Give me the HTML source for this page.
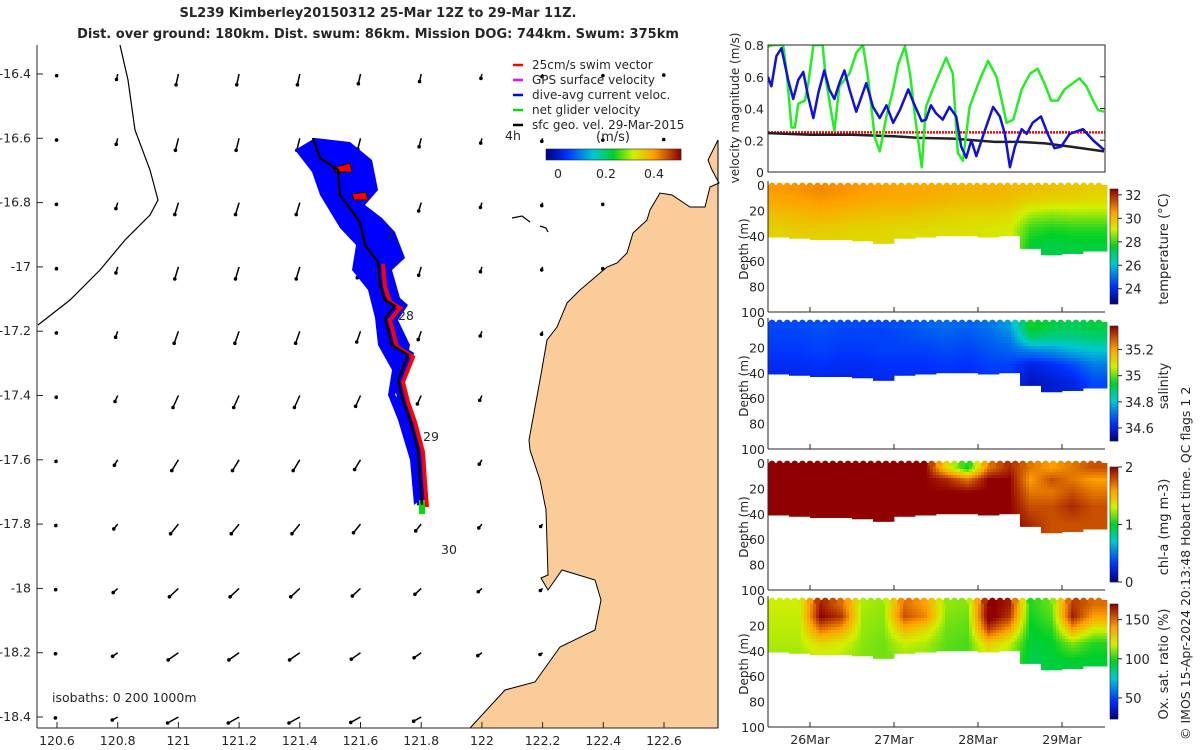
<!DOCTYPE html>
<html><head><meta charset="utf-8">
<style>
body{margin:0;background:#fff;}
svg{display:block;font-family:"DejaVu Sans","Liberation Sans",sans-serif;}
text{fill:#262626;}
</style></head><body>
<svg id="s" width="1200" height="750" viewBox="0 0 1200 750">
<text x="378" y="17" text-anchor="middle" font-weight="bold" font-size="13" fill="#000">SL239 Kimberley20150312 25-Mar 12Z to 29-Mar 11Z.</text>
<text x="378" y="38" text-anchor="middle" font-weight="bold" font-size="13" fill="#000">Dist. over ground: 180km. Dist. swum: 86km. Mission DOG: 744km. Swum: 375km</text>
<g id="map"></g>
<g id="right"></g>
<text transform="translate(1190,740) rotate(-90)" font-size="12.5">© IMOS 15-Apr-2024 20:13:48 Hobart time. QC flags 1  2</text>
</svg>
<script>
const NS="http://www.w3.org/2000/svg";
function mk(p,tag,at,txt){const e=document.createElementNS(NS,tag);for(const k in at)e.setAttribute(k,at[k]);if(txt!=null)e.textContent=txt;p.appendChild(e);return e;}
// ---------- data ----------
const latTicks=[-16.4,-16.6,-16.8,-17,-17.2,-17.4,-17.6,-17.8,-18,-18.2,-18.4];
const lonTicks=[120.6,120.8,121,121.2,121.4,121.6,121.8,122,122.2,122.4,122.6];
const arrowRowU=[-0.02,-0.025,-0.03,-0.03,-0.035,-0.045,-0.055,-0.065,-0.075,-0.085,-0.09];
const arrowRowV=[-0.09,-0.1,-0.1,-0.1,-0.1,-0.1,-0.09,-0.08,-0.07,-0.06,-0.05];
const arrowColScale=[0.15,0.5,1,1,1,0.9,0.7,0.4,0.25,0.15,0.1];
const greenT=[25.5,25.56,25.68,25.72,25.78,25.82,25.86,25.94,25.98,26.04,26.15,26.19,26.29,26.35,26.47,26.55,26.63,26.69,26.77,26.83,26.91,26.99,27.05,27.13,27.19,27.25,27.33,27.38,27.46,27.54,27.62,27.7,27.76,27.82,27.9,28.02,28.12,28.22,28.34,28.42,28.52,28.62,28.71,28.79,28.87,28.95,29.03,29.13,29.21,29.29,29.37,29.43,29.5];
const greenV=[0.79,0.8,0.8,0.64,0.28,0.28,0.43,0.45,0.56,0.8,0.8,0.58,0.26,0.54,0.62,0.75,0.8,0.6,0.22,0.13,0.35,0.52,0.68,0.79,0.62,0.35,0.03,0.41,0.52,0.62,0.72,0.62,0.12,0.07,0.41,0.58,0.7,0.6,0.31,0.33,0.52,0.62,0.65,0.56,0.45,0.45,0.52,0.56,0.59,0.54,0.45,0.39,0.38];
const blueT=[25.5,25.54,25.6,25.66,25.74,25.8,25.86,25.92,25.98,26.04,26.1,26.17,26.23,26.29,26.35,26.41,26.47,26.55,26.67,26.75,26.83,26.91,26.99,27.07,27.17,27.23,27.33,27.38,27.44,27.5,27.58,27.66,27.74,27.8,27.86,27.92,27.98,28.08,28.18,28.26,28.32,28.38,28.44,28.52,28.58,28.65,28.75,28.83,28.91,28.99,29.09,29.25,29.37,29.5];
const blueV=[0.6,0.54,0.73,0.78,0.58,0.46,0.58,0.63,0.47,0.34,0.5,0.64,0.52,0.46,0.56,0.64,0.52,0.38,0.56,0.41,0.34,0.42,0.31,0.39,0.52,0.44,0.32,0.33,0.42,0.37,0.33,0.41,0.35,0.16,0.09,0.2,0.1,0.26,0.41,0.35,0.24,0.03,0.16,0.27,0.24,0.31,0.35,0.24,0.15,0.16,0.24,0.27,0.2,0.14];
const blackT=[25.5,26,26.5,27,27.3,27.7,28.2,28.5,28.8,29.1,29.5];
const blackV=[0.245,0.235,0.235,0.225,0.215,0.21,0.19,0.19,0.18,0.16,0.13];
const swimSpeed=[0.25,0.25];
const colT=[25.5,25.75,26,26.25,26.5,26.75,27,27.25,27.5,27.75,28,28.25,28.5,28.75,29,29.25,29.5];
const bottomDepth=[41,42,43,43,44,46,42,41,40,40,41,40,50,55,54,52];
const binCenters=[4,13,23,34,48];
const tempBins=[
[30.6,30.7,30.8,30.7,30.6,30.5,30.4,30.4,30.3,30.2,30.2,30.1,30,29.9,29.8,29.7],
[30.4,30.5,30.6,30.5,30.4,30.3,30.3,30.2,30.1,30,30,29.9,29.6,29.5,29.5,29.4],
[30,30.1,30.2,30.1,30,29.9,29.9,29.8,29.7,29.6,29.6,29.5,28.8,28.6,28.7,28.7],
[29.7,29.8,29.8,29.7,29.6,29.6,29.5,29.5,29.4,29.4,29.3,29.2,28,27.8,27.9,27.9],
[29.5,29.5,29.5,29.5,29.5,29.5,29.4,29.4,29.3,29.3,29.2,29.1,27.5,27.3,27.4,27.4]];
const salBins=[
[34.66,34.66,34.67,34.66,34.66,34.66,34.67,34.69,34.7,34.69,34.71,34.76,34.95,34.92,34.9,34.92],
[34.65,34.65,34.66,34.65,34.65,34.65,34.66,34.67,34.68,34.67,34.69,34.72,34.88,34.86,34.86,34.88],
[34.64,34.64,34.65,34.64,34.64,34.65,34.65,34.65,34.66,34.65,34.67,34.69,34.72,34.74,34.78,34.8],
[34.62,34.62,34.63,34.62,34.62,34.63,34.63,34.63,34.64,34.63,34.65,34.65,34.6,34.62,34.66,34.72],
[34.6,34.6,34.61,34.6,34.6,34.61,34.61,34.61,34.62,34.61,34.63,34.63,34.56,34.58,34.6,34.66]];
const chlBins=[
[2,2,2,2,2,2,2,2,1.4,1.0,1.7,1.9,1.7,1.6,1.7,1.8],
[2,2,2,2,2,2,2,2,1.9,1.7,2,2,1.6,1.8,1.7,1.6],
[2,2,2,2,2,2,2,2,2,2,2,2,1.7,1.7,1.8,1.7],
[2,2,2,2,2,2,2,2,2,2,2,2,1.8,1.8,1.9,1.8],
[2,2,2,2,2,2,2,2,2,2,2,2,1.9,1.8,1.8,1.8]];
const oxyBins=[
[118,118,165,150,115,112,150,140,112,110,172,165,100,108,160,150],
[117,117,170,160,113,111,155,145,110,108,175,160,98,105,165,140],
[116,116,150,140,112,110,135,125,108,106,160,140,96,100,140,120],
[115,115,125,120,111,108,118,115,106,104,130,118,94,96,110,100],
[112,112,115,115,110,108,110,110,105,104,115,110,92,94,95,95]];
const dayTicks=[26,27,28,29];
const dayLabels=["26Mar","27Mar","28Mar","29Mar"];
const depthTicks=[0,20,40,60,80,100];
const velTicks=[0,0.2,0.4,0.6,0.8];

const stops=[[0,[0,0,128]],[0.15,[0,48,255]],[0.35,[0,200,210]],[0.5,[0,208,40]],[0.65,[210,240,0]],[0.8,[255,160,0]],[1,[144,0,0]]];
function cmap(f){f=Math.max(0,Math.min(1,f));for(let i=1;i<stops.length;i++){if(f<=stops[i][0]){const a=stops[i-1],b=stops[i];const t=(f-a[0])/(b[0]-a[0]);return `rgb(${a[1].map((c,j)=>Math.round(c+(b[1][j]-c)*t)).join(',')})`;}}return 'rgb(144,0,0)';}

const svg=document.getElementById('s');
// ---------- map ----------
const map=document.getElementById('map');
const lonX=l=>57+(l-120.6)*303.5;
const latY=l=>74+(-16.4-l)*321.5;
const landD="M718,140 L718,728 L470,728 L505,690 L535,682 L560,647 L595,630 L601,600 L595,580 L562,570 L548,590 L541,578 L548,575 L546,510 L540,480 L530,450 L529,440 L540,380 L547,340 L557,327 L567,303 L580,290 L600,273 L607,267 L617,263 L627,253 L633,233 L647,220 L650,210 L660,193 L672,195 L690,207 L705,207 L710,187 L719,183 L712,170 L708,160 Z";
const land=mk(map,'path',{d:landD,fill:'#f9cc99',stroke:'#000','stroke-width':1});


mk(map,'path',{d:"M512,218 L522,216 L530,222 M540,226 L546,228 L548,232",stroke:'#000',fill:'none','stroke-width':1.2});
const iso=mk(map,'path',{d:"M120,45 L128,80 L135,130 L150,170 L158,200 L150,215 L125,240 L100,270 L70,300 L38,325",stroke:'#000',fill:'none','stroke-width':1.2});


mk(map,'text',{x:52,y:702,'font-size':12.5},"isobaths: 0   200   1000m");
mk(map,'line',{x1:37,y1:45,x2:37,y2:728,stroke:'#262626'});
mk(map,'line',{x1:37,y1:728,x2:718,y2:728,stroke:'#262626'});
latTicks.forEach(l=>{const y=latY(l);mk(map,'line',{x1:37,y1:y,x2:43,y2:y,stroke:'#262626'});
 const t=mk(map,'text',{x:31,y:y+4,'text-anchor':'end','font-size':12.5},String(l));
 });
lonTicks.forEach(l=>{const x=lonX(l);mk(map,'line',{x1:x,y1:728,x2:x,y2:722,stroke:'#262626'});
 const t=mk(map,'text',{x:x,y:745,'text-anchor':'middle','font-size':12.5},String(l));
 });
const ag=mk(map,'g',{});

latTicks.forEach((la,r)=>lonTicks.forEach((lo,c)=>{
 const x=lonX(lo),y=latY(la);
 if(land.isPointInFill(new DOMPoint(x,y)))return;
 const s=arrowColScale[c]*120;const dx=arrowRowU[r]*s,dy=-arrowRowV[r]*s;
 mk(ag,'line',{x1:x,y1:y,x2:x+dx,y2:y+dy,stroke:'#000','stroke-width':1.5});
 mk(ag,'circle',{cx:x+dx,cy:y+dy,r:1.8,fill:'#000'});
}));
const trackPts="313,138 320,158 338,170 340,195 360,222 365,245 378,262 380,285 385,300 395,306 385,318 392,345 408,355 398,380 403,400 410,420 418,450 420,480 422,505";
const pts=trackPts.split(' ');
mk(map,'polygon',{points:"295,150 315,138 350,142 372,160 378,190 365,205 382,218 395,232 405,258 392,270 400,298 408,305 398,320 410,345 405,370 395,395 410,410 412,440 420,500 414,505 410,460 398,420 388,395 392,370 378,345 375,318 368,290 352,270 356,245 340,228 320,195 312,172",fill:'#0000ff'});
const bl=mk(map,'polyline',{points:pts.slice(9).join(' '),fill:'none',stroke:'#0000ff','stroke-width':10});

mk(map,'polyline',{points:pts.map(p=>{const[a,b]=p.split(',');return (+a+5)+','+(+b+2)}).slice(6).join(' '),fill:'none',stroke:'#ff0000','stroke-width':4});
mk(map,'polygon',{points:"333,168 350,163 352,172 336,172",fill:'#ff0000',stroke:'#000'});
mk(map,'polygon',{points:"352,194 366,192 368,200 354,200",fill:'#ff0000',stroke:'#000'});
mk(map,'rect',{x:419,y:500,width:6,height:14,fill:'#00e000'});
const tr=mk(map,'polyline',{points:trackPts,fill:'none',stroke:'#000','stroke-width':2.5});

[["4h",505,140],["28",398,320],["29",423,441],["30",441,554],["7",386,240]].forEach(d=>{const t=mk(map,'text',{x:d[1],y:d[2],'font-size':12.5},d[0]);});
const lg=mk(map,'g',{});
[["25cm/s swim vector","#ff0000"],["GPS surface velocity","#ff00ff"],["dive-avg current veloc.","#0000ff"],["net glider velocity","#00e000"],["sfc geo. vel. 29-Mar-2015","#000"]].forEach((d,i)=>{
 const y=65+i*15;mk(lg,'line',{x1:513,y1:y,x2:523,y2:y,stroke:d[1],'stroke-width':2.5});
 const t=mk(lg,'text',{x:532,y:y+4,'font-size':12},d[0]);});
mk(lg,'text',{x:613,y:141,'text-anchor':'middle','font-size':13},"(m/s)");
for(let i=0;i<135;i++)mk(lg,'rect',{x:546+i,y:149,width:1.2,height:11,fill:cmap(i/134)});
mk(lg,'rect',{x:546,y:149,width:135,height:11,fill:'none',stroke:'#262626','stroke-width':0.6});
[["0",558],["0.2",606],["0.4",654]].forEach(d=>mk(lg,'text',{x:d[1],y:178,'text-anchor':'middle','font-size':12.5},d[0]));

// ---------- right panels ----------
const R=document.getElementById('right');
const X0=768,X1=1105;
const tX=t=>X0+(t-25.5)*84;
const vg=mk(R,'g',{});
const vY=v=>172-v/0.8*127;
mk(vg,'defs',{}).innerHTML='<clipPath id="vc"><rect x="768" y="45" width="337" height="127"/></clipPath>';
const gl=mk(vg,'g',{'clip-path':'url(#vc)'});
mk(gl,'line',{x1:X0,y1:vY(swimSpeed[0]),x2:X1,y2:vY(swimSpeed[1]),stroke:'#ff0000','stroke-width':2.5,'stroke-dasharray':'2 1'});
[[blackT,blackV,'#222'],[greenT,greenV,'#22ee22'],[blueT,blueV,'#1010dd']].forEach(d=>{
 const p=mk(gl,'polyline',{points:d[0].map((t,i)=>tX(t)+','+vY(d[1][i])).join(' '),fill:'none',stroke:d[2],'stroke-width':2.5,'stroke-linejoin':'round'});
 });
mk(vg,'rect',{x:X0,y:45,width:337,height:127,fill:'none',stroke:'#262626'});
velTicks.forEach(v=>{mk(vg,'text',{x:764,y:vY(v)+5,'text-anchor':'end','font-size':12.5},String(v));
 mk(vg,'line',{x1:X1,y1:vY(v),x2:X1-5,y2:vY(v),stroke:'#262626'});});
mk(vg,'text',{transform:'translate(739,108) rotate(-90)','text-anchor':'middle','font-size':12},"velocity magnitude (m/s)");
const panels=[
 {top:185,bins:tempBins,min:22.7,max:32.5,ticks:[24,26,28,30,32],lab:"temperature (°C)",name:'temperature-section'},
 {top:322,bins:salBins,min:34.5,max:35.38,ticks:[34.6,34.8,35,35.2],lab:"salinity",name:'salinity-section'},
 {top:463,bins:chlBins,min:0,max:2,ticks:[0,1,2],lab:"chl-a (mg m-3)",name:'chl-section'},
 {top:600,bins:oxyBins,min:23,max:170,ticks:[50,100,150],lab:"Ox. sat. ratio (%)",name:'oxygen-section'}];
function interp(arr,xs,x){if(x<=xs[0])return 0;for(let i=1;i<xs.length;i++)if(x<=xs[i])return i-1+(x-xs[i-1])/(xs[i]-xs[i-1]);return xs.length-1;}
const colC=colT.slice(0,-1).map((t,i)=>(t+colT[i+1])/2);
panels.forEach(P=>{
 const g=mk(R,'g',{});
 const dY=d=>P.top+d*1.27;
 const f=v=>(v-P.min)/(P.max-P.min);
 const val=(t,d)=>{const ci=interp(null,colC,t),bi=interp(null,binCenters,d);
  const c0=Math.floor(ci),c1=Math.min(c0+1,colC.length-1),b0=Math.floor(bi),b1=Math.min(b0+1,binCenters.length-1);
  const ct=ci-c0,bt=bi-b0;const B=P.bins;
  return (B[b0][c0]*(1-ct)+B[b0][c1]*ct)*(1-bt)+(B[b1][c0]*(1-ct)+B[b1][c1]*ct)*bt;};
 const step=3;
 for(let x=X0;x<X1;x+=step){
  const t=25.5+(x+step/2-X0)/84;const ci=Math.min(15,Math.floor((t-25.5)/0.25));
  const bd=bottomDepth[ci];
  for(let y=P.top;y<dY(bd);y+=step){
   const d=(y+step/2-P.top)/1.27;
   const r=mk(g,'rect',{x:x,y:y,width:step+0.4,height:Math.min(step,dY(bd)-y)+0.4,fill:cmap(f(val(t,d)))});
  }
 }
 for(let x=X0+4;x<X1;x+=7.6)mk(g,'circle',{cx:x,cy:P.top+1,r:3.4,fill:cmap(f(val(25.5+(x-X0)/84,2)))});
 mk(g,'line',{x1:X0,y1:P.top-4,x2:X0,y2:P.top+127,stroke:'#262626'});
 mk(g,'line',{x1:X0,y1:P.top+127,x2:X1,y2:P.top+127,stroke:'#262626'});
 depthTicks.forEach(d=>{const t=mk(g,'text',{x:765,y:dY(d)+5,'text-anchor':'end','font-size':12.5},String(d));});
 dayTicks.forEach(t=>mk(g,'line',{x1:tX(t),y1:P.top+127,x2:tX(t),y2:P.top+122,stroke:'#262626'}));
 mk(g,'text',{transform:`translate(748,${P.top+64}) rotate(-90)`,'text-anchor':'middle','font-size':12},"Depth (m)");
 const cb0=P.top+4,cb1=P.top+119;
 for(let i=0;i<115;i++)mk(g,'rect',{x:1110,y:cb0+i,width:8,height:1.2,fill:cmap(1-i/114)});
 mk(g,'rect',{x:1110,y:cb0,width:8,height:115,fill:'none',stroke:'#262626','stroke-width':0.6});
 const cY=v=>cb1-f(v)*115;
 P.ticks.forEach(v=>{mk(g,'line',{x1:1118,y1:cY(v),x2:1122,y2:cY(v),stroke:'#262626'});
  mk(g,'text',{x:1125,y:cY(v)+5,'font-size':13},String(v));});
 mk(g,'text',{transform:`translate(1168,${P.top+64}) rotate(-90)`,'text-anchor':'middle','font-size':13},P.lab);
});
dayTicks.forEach((t,i)=>{const e=mk(R,'text',{x:tX(t),y:744,'text-anchor':'middle','font-size':12.5},dayLabels[i]);});
</script>
</body></html>
